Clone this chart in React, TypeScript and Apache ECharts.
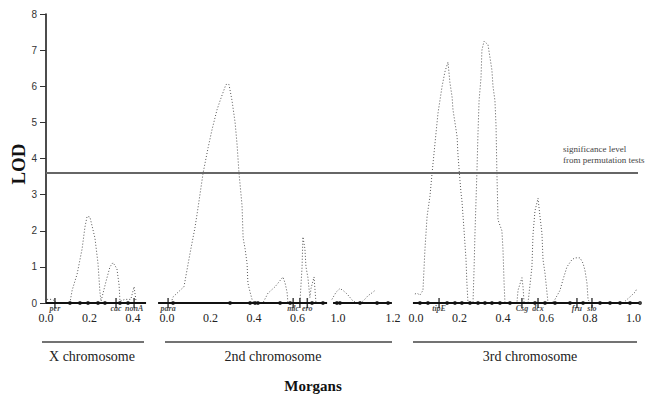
import React, { useEffect, useRef } from "react";
import * as echarts from "echarts";

// ---------- DATA ----------
// LOD profiles: [position in Morgans, LOD]
const chrXLod: [number, number][] = [
  [0.005, 0.1], [0.03, 0.1], [0.05, 0], [0.11, 0], [0.12, 0.35], [0.143, 0.8], [0.166, 1.5],
  [0.179, 2.1], [0.189, 2.4], [0.202, 2.38], [0.225, 1.8], [0.239, 1.1], [0.248, 0.3],
  [0.253, 0.05], [0.276, 0.6], [0.294, 1.0], [0.308, 1.12], [0.326, 0.95], [0.336, 0.5],
  [0.34, 0.05], [0.363, 0.1], [0.39, 0.1], [0.405, 0.45], [0.414, 0.05],
];
const chr2Lod: [number, number][] = [
  [0.023, 0.08], [0.028, 0.17], [0.069, 0.4], [0.078, 0.45], [0.106, 1.38], [0.129, 2.1],
  [0.143, 2.65], [0.166, 3.6], [0.189, 4.3], [0.207, 4.8], [0.23, 5.35], [0.244, 5.6],
  [0.271, 6.05], [0.285, 6.05], [0.299, 5.6], [0.313, 5.0], [0.322, 4.4], [0.331, 3.6],
  [0.345, 2.7], [0.35, 1.8], [0.359, 1.5], [0.368, 1.1], [0.372, 0.55], [0.382, 0.3],
  [0.391, 0.1], [0.4, 0], [0.441, 0], [0.464, 0.27], [0.497, 0.45], [0.533, 0.72],
  [0.543, 0.55], [0.552, 0.3], [0.556, 0], [0.611, 0], [0.621, 1.0], [0.625, 1.83],
  [0.634, 1.5], [0.639, 1.0], [0.648, 0.7], [0.657, 0.15], [0.662, 0.4], [0.676, 0.72],
  [0.68, 0.4], [0.685, 0],
];
const chr2TailLod: [number, number][] = [
  [0.978, 0.1], [0.993, 0.3], [1.007, 0.4], [1.018, 0.35], [1.033, 0.25], [1.055, 0.05],
  [1.073, 0], [1.091, 0.05], [1.109, 0.2], [1.127, 0.3], [1.135, 0.35],
];
const chr3Lod: [number, number][] = [
  [-0.005, 0.25], [0.005, 0.27], [0.018, 0.22], [0.032, 0.35], [0.041, 1.47], [0.051, 2.4],
  [0.064, 2.95], [0.074, 3.6], [0.087, 4.4], [0.101, 5.25], [0.12, 6.0], [0.133, 6.4],
  [0.147, 6.67], [0.156, 6.1], [0.166, 5.7], [0.17, 5.35], [0.179, 5.0], [0.189, 4.6],
  [0.193, 4.1], [0.202, 3.4], [0.207, 3.05], [0.211, 2.85], [0.221, 2.0], [0.23, 1.2],
  [0.234, 0.55], [0.239, 0], [0.262, 0], [0.267, 0.95], [0.271, 1.9], [0.276, 2.85],
  [0.28, 3.6], [0.285, 4.7], [0.29, 5.6], [0.299, 6.25], [0.303, 7.0], [0.313, 7.25],
  [0.331, 7.15], [0.349, 6.45], [0.354, 6.0], [0.363, 5.6], [0.368, 4.9], [0.372, 3.6],
  [0.375, 2.85], [0.377, 2.3], [0.395, 2.0], [0.4, 1.47], [0.405, 0.55], [0.409, 0],
  [0.464, 0], [0.469, 0.35], [0.487, 0.7], [0.492, 0.45], [0.497, 0], [0.515, 0],
  [0.533, 1.0], [0.538, 1.9], [0.547, 2.55], [0.561, 2.9], [0.57, 2.4], [0.579, 1.93],
  [0.584, 1.2], [0.593, 0.83], [0.602, 0.3], [0.607, 0], [0.625, 0], [0.639, 0.1],
  [0.662, 0.35], [0.676, 0.65], [0.694, 1.0], [0.717, 1.2], [0.731, 1.25], [0.754, 1.25],
  [0.768, 1.1], [0.777, 0.9], [0.786, 0.55], [0.791, 0.1], [0.8, 0], [0.952, 0],
  [0.984, 0.17], [1.007, 0.3], [1.016, 0.4],
];

// chromosome map extents (Morgans)
const chrXSpan = [0, 0.46];
const chr2Span = [-0.041, 0.736];
const chr2TailSpan = [0.982, 1.196];
const chr3Span = [-0.014, 1.053];

// map markers (Morgans)
const chrXMarkers = [0.11, 0.156, 0.193, 0.239, 0.271, 0.34, 0.377];
const chr2Markers = [0.028, 0.29, 0.382, 0.405, 0.418, 0.52, 0.566, 0.667, 0.717];
const chr2TailMarkers = [0.996, 1.007, 1.08, 1.142, 1.182];
const chr3Markers = [0.018, 0.055, 0.143, 0.179, 0.211, 0.248, 0.285, 0.317, 0.349, 0.386,
  0.432, 0.547, 0.593, 0.639, 0.708, 0.768, 0.846, 0.892, 0.938, 0.984, 1.03];

// named genes: [Morgans, name]
const chrXGenes: [number, string][] = [[0.041, "per"], [0.322, "cac"], [0.405, "nonA"]];
const chr2Genes: [number, string][] = [[0.005, "para"], [0.58, "mlc"], [0.611, ""], [0.645, "ero"]];
const chr3Genes: [number, string][] = [[0.106, "tipE"], [0.487, "Csg"], [0.561, "dcx"], [0.74, "fru"], [0.809, "slo"]];

// cytological labels: [Morgans, LOD height, name]
const chr2Cyto: [number, number, string][] = [[0.299, 0.42, "27B"]];
const chr3Cyto: [number, number, string][] = [[0.143, 0.39, "65A"], [0.331, 0.39, "68B"]];

// tick labels
const chrXTicks = [0, 0.2, 0.4];
const chr2Ticks = [0, 0.2, 0.4, 0.6];
const chr2TailTicks = [1.0, 1.2];
const chr3Ticks = [0, 0.2, 0.4, 0.6, 0.8, 1.0];
const lodMin = 0;
const lodMax = 8;
const lodInterval = 1;
const significance = 3.6;

// ---------- LAYOUT ----------
const GRID_L = 46;
const GRID_R = 638;
const GRID_T = 14;
const GRID_B = 303;
const W = GRID_R - GRID_L;
const SERIF = "'Liberation Serif', 'Times New Roman', serif";
const SANS = "'Liberation Sans', Arial, sans-serif";

function axisRange(anchorPx: number, pxPerMorgan: number, anchorVal: number) {
  const min = anchorVal - (anchorPx - GRID_L) / pxPerMorgan;
  return { min, max: min + W / pxPerMorgan };
}

const ranges = [
  axisRange(46, 217.5, 0),
  axisRange(167, 217.5, 0),
  axisRange(338, 275, 1.0),
  axisRange(416, 217.5, 0),
];
const tickSets = [chrXTicks, chr2Ticks, chr2TailTicks, chr3Ticks];

export default function App() {
  const ref = useRef<HTMLDivElement>(null);
  useEffect(() => {
    if (!ref.current) return;
    const chart = echarts.init(ref.current, undefined, { renderer: "svg" });

    const xAxis = ranges.map((r, i) => ({
      type: "value" as const,
      position: "bottom" as const,
      min: r.min,
      max: r.max,
      axisLine: { show: false },
      axisTick: { show: false },
      splitLine: { show: false },
      axisLabel: {
        customValues: tickSets[i],
        formatter: (v: number) => v.toFixed(1),
        margin: 9,
        fontFamily: SERIF,
        fontSize: 12,
        color: "#222",
      },
    }));

    const lodStyle = { color: "#555", width: 1, type: [1, 2] as number[] };
    const lods = [chrXLod, chr2Lod, chr2TailLod, chr3Lod];
    const spans = [chrXSpan, chr2Span, chr2TailSpan, chr3Span];
    const markers = [chrXMarkers, chr2Markers, chr2TailMarkers, chr3Markers];
    const genes: [number, string][][] = [chrXGenes, chr2Genes, [], chr3Genes];
    const cytos: [number, number, string][][] = [[], chr2Cyto, [], chr3Cyto];

    const series: any[] = [];
    lods.forEach((d, i) => {
      const s: any = {
        type: "line",
        xAxisIndex: i,
        data: d,
        symbol: "none",
        lineStyle: lodStyle,
        z: 2,
        silent: true,
      };
      if (i === 0) {
        s.markLine = {
          silent: true,
          symbol: "none",
          label: { show: false },
          lineStyle: { color: "#666", width: 2, type: "solid" },
          data: [{ yAxis: significance }],
        };
      }
      series.push(s);
      series.push({
        type: "line",
        xAxisIndex: i,
        data: [[spans[i][0], 0], [spans[i][1], 0]],
        symbol: "none",
        clip: false,
        lineStyle: { color: "#111", width: 2 },
        z: 3,
        silent: true,
      });
      series.push({
        type: "scatter",
        xAxisIndex: i,
        data: markers[i].map((m) => [m, 0]),
        symbol: "circle",
        symbolSize: 4,
        clip: false,
        itemStyle: { color: "#111" },
        z: 4,
        silent: true,
      });
      if (genes[i].length) {
        series.push({
          type: "scatter",
          xAxisIndex: i,
          data: genes[i].map((g) => [g[0], 0, g[1]]),
          symbol: "rect",
          symbolSize: [1.5, 10],
          clip: false,
          itemStyle: { color: "#111" },
          z: 5,
          silent: true,
          label: {
            show: true,
            position: "inside",
            offset: [0, 5],
            formatter: (p: any) => p.data[2],
            fontFamily: SERIF,
            fontStyle: "italic",
            fontWeight: "bold",
            fontSize: 8,
            color: "#111",
          },
        });
      }
      if (cytos[i].length) {
        series.push({
          type: "scatter",
          xAxisIndex: i,
          data: cytos[i].map((c) => [c[0], c[1], c[2]]),
          symbolSize: 1,
          itemStyle: { opacity: 0 },
          z: 5,
          silent: true,
          label: {
            show: true,
            position: "inside",
            formatter: (p: any) => p.data[2],
            fontFamily: SANS,
            fontSize: 10,
            color: "#222",
          },
        });
      }
    });

    const bracket = (x1: number, x2: number) => ({
      type: "line",
      shape: { x1, y1: 342, x2, y2: 342 },
      style: { stroke: "#444", lineWidth: 1.5 },
    });
    const label = (x: number, y: number, text: string, extra: any = {}) => ({
      type: "text",
      x,
      y,
      style: {
        text,
        fontFamily: SERIF,
        fontSize: 14,
        fill: "#222",
        align: "center",
        verticalAlign: "middle",
        ...extra,
      },
    });

    chart.setOption({
      animation: false,
      grid: { left: GRID_L, right: 645 - GRID_R, top: GRID_T, bottom: 404 - GRID_B, containLabel: false },
      xAxis,
      yAxis: {
        type: "value",
        min: lodMin,
        max: lodMax,
        interval: lodInterval,
        axisLine: { show: true, onZero: false, lineStyle: { color: "#111", width: 1.5 } },
        axisTick: { show: true, length: 6, lineStyle: { color: "#333" } },
        axisLabel: { margin: 9, fontSize: 10, fontFamily: SANS, color: "#333" },
        splitLine: { show: false },
      },
      series,
      graphic: [
        bracket(42, 144),
        bracket(165, 392),
        bracket(413, 637),
        label(92, 356, "X chromosome"),
        label(273, 356, "2nd chromosome"),
        label(530, 356, "3rd chromosome"),
        label(313, 386, "Morgans", { fontWeight: "bold", fontSize: 15, fill: "#111" }),
        {
          type: "text",
          x: 18,
          y: 164,
          rotation: Math.PI / 2,
          style: {
            text: "LOD",
            fontFamily: SERIF,
            fontWeight: "bold",
            fontSize: 19,
            fill: "#111",
            align: "center",
            verticalAlign: "middle",
          },
        },
        label(563, 149, "significance level", { fontSize: 9, align: "left", fill: "#444" }),
        label(563, 160, "from permutation tests", { fontSize: 9, align: "left", fill: "#444" }),
      ],
    });
    return () => chart.dispose();
  }, []);
  return (
    <div
      ref={ref}
      style={{ position: "absolute", left: 0, top: 0, width: 645, height: 404, background: "#fff" }}
    />
  );
}
